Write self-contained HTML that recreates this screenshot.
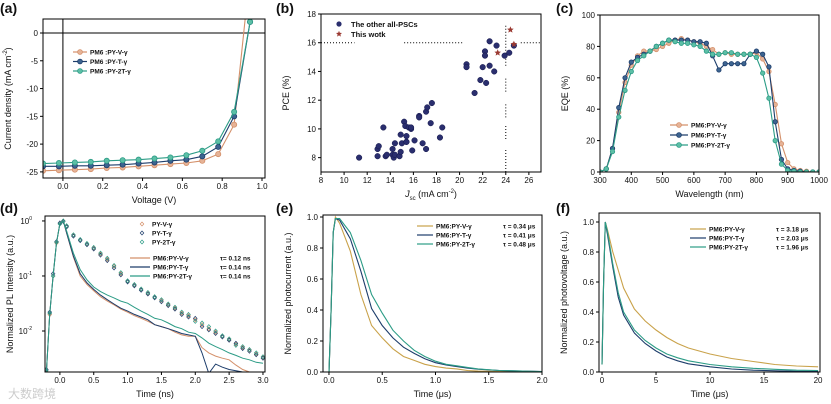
<!DOCTYPE html>
<html><head><meta charset="utf-8">
<style>
html,body{margin:0;padding:0;background:#fff;width:831px;height:404px;overflow:hidden}
svg{display:block;font-family:"Liberation Sans","Noto Sans CJK SC",sans-serif}
.tk{font-size:8px;fill:#111}
.at{font-size:9px;fill:#111}
.pl{font-size:14px;font-weight:bold;fill:#111}
.lg{font-size:6.5px;font-weight:bold;fill:#111}
</style></head>
<body>
<svg id="fig" width="831" height="404" viewBox="0 0 831 404">
<text x="8" y="398" style="font-size:12px;fill:#ccc">大数跨境</text>
</svg>
<script>
// ---------- (a) J-V ----------
const jvV = [-0.1,-0.02,0.06,0.14,0.22,0.30,0.38,0.46,0.54,0.62,0.70,0.78,0.86,0.94];
const jvPYV = [-24.8,-24.7,-24.6,-24.5,-24.3,-24.2,-24.0,-23.8,-23.6,-23.4,-23.0,-21.8,-16.5,11];
const jvPYT = [-24.0,-24.0,-23.9,-23.9,-23.8,-23.7,-23.5,-23.3,-23.0,-22.8,-22.2,-20.5,-15.0,2.0];
const jvPY2T = [-23.5,-23.4,-23.3,-23.2,-23.0,-22.9,-22.8,-22.6,-22.4,-22.0,-21.2,-19.5,-14.2,2.0];
const jvXTicks = [0,0.2,0.4,0.6,0.8,1.0];
const jvYTicks = [0,-5,-10,-15,-20,-25];
// ---------- (b) PCE vs Jsc ----------
const otherJ = [11.3,12.9,12.9,13.0,13.4,13.6,13.7,14.2,14.2,14.3,14.4,14.4,14.8,14.9,14.9,15.0,15.2,15.3,15.4,15.4,15.4,15.6,15.8,15.8,15.9,16.1,16.5,16.5,16.8,17.1,17.1,17.2,17.5,17.6,18.3,18.5,20.6,20.6,21.3,21.8,22.0,22.2,22.2,22.3,22.6,22.6,23.0,23.2,23.9,24.3,24.7];
const otherPCE = [8.0,8.1,8.6,8.8,10.1,8.1,8.2,8.2,8.6,8.0,9.0,8.2,8.1,8.4,9.6,9.0,10.5,10.2,9.1,9.5,9.1,10.1,10.0,10.1,8.5,9.2,10.9,10.8,9.0,11.2,8.6,11.5,10.4,11.8,9.4,10.1,14.5,14.3,12.5,13.4,14.3,15.4,15.1,13.2,16.1,14.4,14.0,15.8,15.1,15.3,15.8];
const workJ = [23.3,24.4,24.7];
const workPCE = [15.3,16.9,15.9];
const bXTicks = [8,10,12,14,16,18,20,22,24,26];
const bYTicks = [8,10,12,14,16,18];
// ---------- (c) EQE ----------
const wl = [300,320,340,360,380,400,420,440,460,480,500,520,540,560,580,600,620,640,660,680,700,720,740,760,780,800,820,840,860,880,900,920,940,960,980,1000];
const eqePYV = [0,2,15,38,57,68,74,77,77,78,80,82,84,85,84,83,82,80,78,75,76,75,75,75,75,76,72,64,43,18,6,2,1,0.5,0,0];
const eqePYT = [0,2,15,41,60,70,73,75,77,80,82,84,84,84,84,83,83,82,74,65,69,69,69,69,75,77,75,67,32,8,2,1,0.5,0,0,0];
const eqePY2T = [0,2,13,35,52,64,71,74,77,80,82,84,83,82,82,81,80,77,75,75,76,76,75,75,75,73,63,47,20,5,1,0.5,0,0,0,0];
const cXTicks = [300,400,500,600,700,800,900,1000];
const cYTicks = [0,20,40,60,80,100];
// ---------- (d) TRPL ----------
const plT = [-0.2,-0.15,-0.1,-0.05,0,0.05,0.1,0.2,0.3,0.4,0.5,0.6,0.7,0.8,0.9,1.0,1.1,1.2,1.3,1.4,1.5,1.6,1.7,1.8,1.9,2.0,2.1,2.2,2.3,2.4,2.5,2.6,2.7,2.8,2.9,3.0];
const plNeatV = [0.0018,0.02,0.1,0.4,0.9,1.0,0.8,0.55,0.45,0.38,0.32,0.25,0.2,0.15,0.11,0.08,0.068,0.057,0.048,0.041,0.036,0.03,0.026,0.021,0.019,0.016,0.013,0.011,0.0095,0.008,0.007,0.0058,0.005,0.0045,0.0038,0.0033];
const plNeatT = [0.002,0.022,0.11,0.42,0.92,0.98,0.78,0.53,0.44,0.37,0.31,0.24,0.19,0.14,0.105,0.078,0.066,0.055,0.047,0.04,0.034,0.029,0.025,0.02,0.018,0.017,0.012,0.0105,0.009,0.0078,0.0068,0.006,0.0048,0.0043,0.0037,0.0032];
const plNeat2T = [0.0019,0.021,0.1,0.41,0.88,1.0,0.82,0.56,0.46,0.39,0.33,0.26,0.21,0.155,0.115,0.082,0.07,0.058,0.05,0.042,0.037,0.031,0.027,0.022,0.02,0.015,0.014,0.012,0.01,0.0082,0.0072,0.0055,0.0052,0.0046,0.004,0.0034];
const plBlendV = [0.0018,0.02,0.1,0.4,0.9,1.0,0.6,0.22,0.1,0.07,0.054,0.042,0.035,0.03,0.025,0.022,0.019,0.017,0.015,0.013,0.012,0.011,0.0095,0.0085,0.008,0.008,0.005,0.004,0.0035,0.0032,0.003,0.0024,0.002,0.0018,0.0017,0.0016];
const plBlendT = [0.0018,0.02,0.1,0.4,0.9,1.0,0.6,0.23,0.11,0.075,0.057,0.045,0.037,0.031,0.026,0.023,0.02,0.018,0.016,0.013,0.012,0.011,0.01,0.009,0.0085,0.008,0.004,0.0017,0.0025,0.0022,0.002,0.0019,0.0018,0.0017,0.0017,0.0016];
const plBlend2T = [0.0018,0.02,0.1,0.4,0.9,1.0,0.65,0.26,0.13,0.085,0.063,0.052,0.045,0.04,0.035,0.032,0.027,0.023,0.02,0.017,0.016,0.014,0.012,0.011,0.0095,0.009,0.0075,0.006,0.0052,0.0046,0.004,0.0036,0.0032,0.003,0.0027,0.0026];
// ---------- (e) TPC ----------
const tpcT = [-0.05,0.0,0.02,0.04,0.06,0.1,0.2,0.3,0.4,0.5,0.6,0.7,0.8,0.9,1.0,1.1,1.2,1.3,1.4,1.6,2.0];
const tpcV = [0,0,0.4,0.9,1.0,0.96,0.78,0.5,0.3,0.22,0.15,0.1,0.075,0.05,0.035,0.025,0.02,0.01,0.006,0.003,0.002];
const tpcTT = [0,0,0.4,0.9,0.99,0.98,0.86,0.65,0.41,0.3,0.22,0.16,0.12,0.085,0.06,0.045,0.035,0.025,0.018,0.01,0.003];
const tpc2T = [0,0,0.4,0.9,0.99,0.99,0.9,0.72,0.5,0.38,0.27,0.2,0.14,0.1,0.07,0.05,0.04,0.03,0.02,0.01,0.003];
// ---------- (f) TPV ----------
const tpvT = [0,0.15,0.3,0.5,1,1.5,2,3,4,5,6,7,8,10,12,14,16,18,20];
const tpvV = [0.05,0.6,1.0,0.95,0.8,0.68,0.56,0.42,0.34,0.28,0.23,0.19,0.16,0.12,0.09,0.07,0.05,0.04,0.035];
const tpvTT = [0.05,0.6,1.0,0.92,0.7,0.5,0.38,0.26,0.19,0.14,0.1,0.075,0.055,0.035,0.02,0.012,0.008,0.005,0.004];
const tpv2T = [0.05,0.6,1.0,0.94,0.72,0.53,0.4,0.28,0.21,0.16,0.12,0.095,0.075,0.05,0.035,0.025,0.018,0.012,0.01];

const NS = 'http://www.w3.org/2000/svg';
const svg = document.getElementById('fig');
const COL = {V:'#d4906a', T:'#1d3d6b', T2:'#2c9c86'};
const FILL = {V:'#e6b397', T:'#3d6490', T2:'#5cbfa6'};
function el(tag, attrs, parent){const e=document.createElementNS(NS,tag);for(const k in attrs)e.setAttribute(k,attrs[k]);(parent||svg).appendChild(e);return e;}
function lin(d0,d1,p0,p1){return v=>p0+(v-d0)/(d1-d0)*(p1-p0);}
let clipN=0;
function frame(P){
  const g=el('g',{});
  
  
  const cid='clip'+(clipN++);
  const cp=el('clipPath',{id:cid},g);const cr=el('rect',{x:P.L,y:P.T,width:P.R-P.L,height:P.B-P.T},cp);
  P.g=g;
  P.data=el('g',{'clip-path':'url(#'+cid+')'},g);
  
  
  return g;
}
function axes(P,xt,yt,xfmt,yfmt){
  const g=P.g;
  const box=el('rect',{x:P.L,y:P.T,width:P.R-P.L,height:P.B-P.T,fill:'none',stroke:'#000','stroke-width':1},g);
  
  
  xt.forEach(v=>{const x=P.x(v);
    const t=el('line',{x1:x,x2:x,y1:P.B,y2:P.B+3,stroke:'#000'},g);
    
    
    const l=el('text',{x:x,y:P.B+11,'text-anchor':'middle',class:'tk'},g);l.textContent=xfmt(v);
    
    
  });
  yt.forEach(v=>{const y=P.y(v);
    const t=el('line',{x1:P.L-3,x2:P.L,y1:y,y2:y,stroke:'#000'},g);
    
    
    if(yfmt){const l=el('text',{x:P.L-5,y:y+3,'text-anchor':'end',class:'tk'},g);l.textContent=yfmt(v);
    
    }
  });
}
function titles(P,xt,yt,lab,lx,ly){
  const a=el('text',{x:(P.L+P.R)/2,y:P.B+25,'text-anchor':'middle',class:'at'},P.g);a.innerHTML=xt;
  
  
  const cy=(P.T+P.B)/2,cx=P.L-32;
  const b=el('text',{x:cx,y:cy,'text-anchor':'middle',class:'at',transform:`rotate(-90 ${cx} ${cy})`},P.g);b.innerHTML=yt;
  
  
  const c=el('text',{x:lx,y:ly,class:'pl'},P.g);c.textContent=lab;
  
  
}
function line(P,xs,ys,color,name,w){
  const pts=xs.map((v,i)=>P.x(v).toFixed(1)+','+P.y(ys[i]).toFixed(1)).join(' ');
  const p=el('polyline',{points:pts,fill:'none',stroke:color,'stroke-width':w||1.1},P.data);
  
  
}
function markers(P,xs,ys,color,fill,name,r){
  xs.forEach((v,i)=>{const c=el('circle',{cx:P.x(v),cy:P.y(ys[i]),r:r||2.6,fill:fill,stroke:color,'stroke-width':0.8},P.data);
    
    });
}
function legend(P,x,y,dy,items,len,mk){
  items.forEach((it,i)=>{const yy=y+i*dy;
    const l=el('line',{x1:x,x2:x+len,y1:yy,y2:yy,stroke:it[1],'stroke-width':1.2},P.g);
    
    
    if(mk){const c=el('circle',{cx:x+len/2,cy:yy,r:2.4,fill:it[2],stroke:it[1],'stroke-width':0.8},P.g);
      
      }
    const t=el('text',{x:x+len+3,y:yy+2.5,class:'lg'},P.g);t.textContent=it[0];
    
    
    if(it[3]){const t2=el('text',{x:x+len+70,y:yy+2.5,class:'lg'},P.g);t2.textContent=it[3];
      
      }
  });
}
const f1=v=>v.toFixed(1), f0=v=>String(v);

// ===== (a)
const A={name:'jv',L:43,R:265,T:19,B:178};A.x=lin(-0.1,1.015,A.L,A.R);A.y=lin(-26.1,2.52,A.B,A.T);
frame(A);
const z1=el('line',{x1:A.x(0),x2:A.x(0),y1:A.T,y2:A.B,stroke:'#000'},A.data);


const z2=el('line',{x1:A.L,x2:A.R,y1:A.y(0),y2:A.y(0),stroke:'#000'},A.data);


[[jvPYV,'V'],[jvPYT,'T'],[jvPY2T,'T2']].forEach(s=>{line(A,jvV,s[0],COL[s[1]],'jv-curve-'+s[1]);markers(A,jvV,s[0],COL[s[1]],FILL[s[1]],'jv-marker-'+s[1]);});
axes(A,jvXTicks,jvYTicks,f1,f0);
titles(A,'Voltage (V)','Current density (mA cm<tspan dy="-4" font-size="6">-2</tspan><tspan dy="4">)</tspan>','(a)',0,13);
legend(A,73,52,9.5,[['PM6 :PY-V-γ',COL.V,FILL.V],['PM6 :PY-T-γ',COL.T,FILL.T],['PM6 :PY-2T-γ',COL.T2,FILL.T2]],14,true);

// ===== (b)
const Bp={name:'pce',L:321,R:541,T:14,B:172};Bp.x=lin(8,27.05,Bp.L,Bp.R);Bp.y=lin(7,18,Bp.B,Bp.T);
frame(Bp);
[[8,10.9],[15.2,20.3],[25.3,27]].forEach(s=>{const l=el('line',{x1:Bp.x(s[0]),x2:Bp.x(s[1]),y1:Bp.y(16),y2:Bp.y(16),stroke:'#000','stroke-dasharray':'1,2'},Bp.data);
  
  });
[[7,8.6],[9.3,10.2],[10.8,11.8],[12.6,13.6],[14.4,17.2]].forEach(s=>{const l=el('line',{x1:Bp.x(24),x2:Bp.x(24),y1:Bp.y(s[0]),y2:Bp.y(s[1]),stroke:'#000','stroke-dasharray':'1,2'},Bp.data);
  
  });
otherJ.forEach((v,i)=>{const c=el('circle',{cx:Bp.x(v),cy:Bp.y(otherPCE[i]),r:2.8,fill:'#2a2e6e',stroke:'#14174a','stroke-width':0.5},Bp.data);
  
  });
function star(cx,cy,r){let p=[];for(let k=0;k<10;k++){const a=-Math.PI/2+k*Math.PI/5,rr=k%2?r*0.45:r;p.push((cx+rr*Math.cos(a)).toFixed(1)+','+(cy+rr*Math.sin(a)).toFixed(1));}return p.join(' ');}
workJ.forEach((v,i)=>{const s=el('polygon',{points:star(Bp.x(v),Bp.y(workPCE[i]),3.5),fill:'#9b3a32'},Bp.data);
  
  });
axes(Bp,bXTicks,bYTicks,f0,f0);
titles(Bp,'<tspan font-style="italic">J</tspan><tspan dy="3" font-size="6">sc</tspan><tspan dy="-3"> (mA cm</tspan><tspan dy="-4" font-size="6">-2</tspan><tspan dy="4">)</tspan>','PCE (%)','(b)',276,13);
const lc=el('circle',{cx:339,cy:24,r:2.6,fill:'#2a2e6e'},Bp.g);


const lt1=el('text',{x:351,y:27,class:'lg',style:'font-size:7.5px'},Bp.g);lt1.textContent='The other all-PSCs';


const ls=el('polygon',{points:star(339,34,3.2),fill:'#9b3a32'},Bp.g);


const lt2=el('text',{x:351,y:37,class:'lg',style:'font-size:7.5px'},Bp.g);lt2.textContent='This wotk';



// ===== (c)
const C={name:'eqe',L:600,R:819,T:15,B:172};C.x=lin(300,1000,C.L,C.R);C.y=lin(0,100,C.B,C.T);
frame(C);
[[eqePYV,'V'],[eqePYT,'T'],[eqePY2T,'T2']].forEach(s=>{line(C,wl,s[0],COL[s[1]],'eqe-curve-'+s[1]);markers(C,wl,s[0],COL[s[1]],FILL[s[1]],'eqe-marker-'+s[1],2.2);});
axes(C,cXTicks,cYTicks,f0,f0);
titles(C,'Wavelength (nm)','EQE (%)','(c)',556,13);
legend(C,670,125,10,[['PM6:PY-V-γ',COL.V,FILL.V],['PM6:PY-T-γ',COL.T,FILL.T],['PM6:PY-2T-γ',COL.T2,FILL.T2]],18,true);

// ===== (d)
const D={name:'trpl',L:45,R:265,T:216,B:372};D.x=lin(-0.22,3.03,D.L,D.R);const dly=lin(-2.745,0.09,D.B,D.T);D.y=v=>dly(Math.log10(v));
frame(D);
[[plNeatV,'V'],[plNeatT,'T'],[plNeat2T,'T2']].forEach(s=>{plT.forEach((t,i)=>{const x=D.x(t),y=D.y(s[0][i]);
  const m=el('polygon',{points:`${x},${y-2} ${x+1.8},${y} ${x},${y+2} ${x-1.8},${y}`,fill:'none',stroke:COL[s[1]],'stroke-width':0.7},D.data);
  
  });});
line(D,plT,plBlendV,COL.V,'pl-blend-V',1);
line(D,plT,plBlendT,COL.T,'pl-blend-T',1);
line(D,plT,plBlend2T,COL.T2,'pl-blend-2T',1);
axes(D,[0,0.5,1,1.5,2,2.5,3],[1,0.1,0.01],f1,null);
[[1,'0'],[0.1,'-1'],[0.01,'-2']].forEach(e=>{const t=el('text',{x:D.L-13,y:D.y(e[0])+3,'text-anchor':'end',class:'tk'},D.g);t.innerHTML='10<tspan dy="-4" font-size="5">'+e[1]+'</tspan>';
  
  });
titles(D,'Time (ns)','Normalized PL Intensity (a.u.)','(d)',0,213);
['PY-V-γ','PY-T-γ','PY-2T-γ'].forEach((n,i)=>{const k=['V','T','T2'][i];const y=224+i*9;
  const m=el('polygon',{points:`142,${y-2} 143.8,${y} 142,${y+2} 140.2,${y}`,fill:'none',stroke:COL[k],'stroke-width':0.7},D.g);
  
  
  const t=el('text',{x:152,y:y+2.5,class:'lg'},D.g);t.textContent=n;
  
  });
legend(D,130,258,9,[['PM6:PY-V-γ',COL.V,'','τ= 0.12 ns'],['PM6:PY-T-γ',COL.T,'','τ= 0.14 ns'],['PM6:PY-2T-γ',COL.T2,'','τ= 0.14 ns']],20,false);

// ===== (e)
const E={name:'tpc',L:323,R:542,T:215,B:372};E.x=lin(-0.056,2.0,E.L,E.R);E.y=lin(0,1.013,E.B,E.T);
frame(E);
line(E,tpcT,tpcV,'#c9a24a','tpc-V');
line(E,tpcT,tpcTT,COL.T,'tpc-T');
line(E,tpcT,tpc2T,COL.T2,'tpc-2T');
axes(E,[0,0.5,1,1.5,2],[0,0.2,0.4,0.6,0.8,1.0],f1,f1);
titles(E,'Time (μs)','Normalized photocurrent (a.u.)','(e)',276,213);
legend(E,417,226,9,[['PM6:PY-V-γ','#c9a24a','','τ = 0.34 μs'],['PM6:PY-T-γ',COL.T,'','τ = 0.41 μs'],['PM6:PY-2T-γ',COL.T2,'','τ = 0.48 μs']],16,false);

// ===== (f)
const F={name:'tpv',L:599,R:820,T:213,B:372};F.x=lin(-0.28,20.18,F.L,F.R);F.y=lin(0,1.06,F.B,F.T);
frame(F);
line(F,tpvT,tpvV,'#c9a24a','tpv-V');
line(F,tpvT,tpvTT,COL.T,'tpv-T');
line(F,tpvT,tpv2T,COL.T2,'tpv-2T');
axes(F,[0,5,10,15,20],[0,0.2,0.4,0.6,0.8,1.0],f0,f1);
titles(F,'Time (μs)','Normalized photovoltage (a.u.)','(f)',556,213);
legend(F,690,229,9,[['PM6:PY-V-γ','#c9a24a','','τ = 3.18 μs'],['PM6:PY-T-γ',COL.T,'','τ = 2.03 μs'],['PM6:PY-2T-γ',COL.T2,'','τ = 1.96 μs']],16,false);
</script>
</body></html>
